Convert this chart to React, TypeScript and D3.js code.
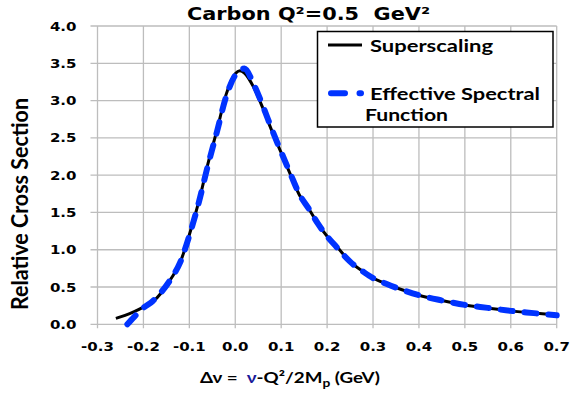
import React from "react";
import * as d3 from "d3";

// values
const xTicks = [-0.3, -0.2, -0.1, 0.0, 0.1, 0.2, 0.3, 0.4, 0.5, 0.6, 0.7];
const yTicks = [0.0, 0.5, 1.0, 1.5, 2.0, 2.5, 3.0, 3.5, 4.0];

const superX = [
  -0.26, -0.24, -0.22, -0.2, -0.18, -0.16, -0.14, -0.12, -0.1, -0.08, -0.06, -0.04, -0.02, 0.0, 0.01, 0.02,
  0.04, 0.06, 0.08, 0.1, 0.12, 0.14, 0.16, 0.18, 0.2, 0.22, 0.25, 0.28, 0.3, 0.33, 0.36, 0.4, 0.45, 0.5, 0.55,
  0.6, 0.65, 0.7,
];
const superY = [
  0.08, 0.12, 0.17, 0.23, 0.3, 0.43, 0.61, 0.83, 1.2, 1.63, 2.14, 2.6, 3.08, 3.36, 3.4, 3.37, 3.18, 2.9, 2.59,
  2.3, 2.01, 1.73, 1.55, 1.35, 1.18, 1.05, 0.84, 0.7, 0.62, 0.54, 0.47, 0.39, 0.32, 0.26, 0.22, 0.18, 0.15,
  0.125,
];

const spectralX = [
  -0.235, -0.22, -0.2, -0.18, -0.16, -0.14, -0.12, -0.1, -0.08, -0.06, -0.04, -0.02, 0.0, 0.01, 0.02, 0.04,
  0.06, 0.08, 0.1, 0.12, 0.14, 0.16, 0.18, 0.2, 0.22, 0.25, 0.28, 0.3, 0.33, 0.36, 0.4, 0.45, 0.5, 0.55, 0.6,
  0.65, 0.7,
];
const spectralY = [
  0.0, 0.1, 0.22, 0.31, 0.44, 0.61, 0.83, 1.19, 1.62, 2.12, 2.58, 3.05, 3.34, 3.4, 3.43, 3.22, 2.93, 2.61, 2.31,
  2.02, 1.74, 1.55, 1.35, 1.18, 1.04, 0.84, 0.7, 0.62, 0.54, 0.47, 0.39, 0.32, 0.26, 0.22, 0.18, 0.15, 0.12,
];

const W = 571;
const H = 398;
const plot = { left: 97.5, right: 556.7, top: 26, bottom: 324.3 };

const tickFont = "'DejaVu Sans', Verdana, sans-serif";
const labelFont = "Lato, 'Open Sans', sans-serif";

export default function App() {
  const x = d3.scaleLinear().domain([-0.3, 0.7]).range([plot.left, plot.right]);
  const y = d3.scaleLinear().domain([0, 4]).range([plot.bottom, plot.top]);

  const line = d3
    .line<[number, number]>()
    .x((d) => x(d[0]))
    .y((d) => y(d[1]))
    .curve(d3.curveMonotoneX);

  const superPts = superX.map((v, i) => [v, superY[i]] as [number, number]);
  const spectralPts = spectralX.map((v, i) => [v, spectralY[i]] as [number, number]);

  const grid = "#bdbdbd";

  return (
    <svg
      width={W}
      height={H}
      style={{ position: "absolute", left: 0, top: 0, background: "#fff" }}
    >
      {/* grid + tick marks */}
      {yTicks.map((t) => (
        <line key={"gy" + t} x1={plot.left - 7} x2={plot.right} y1={y(t)} y2={y(t)} stroke={grid} strokeWidth={1.3} />
      ))}
      {xTicks.map((t) => (
        <line key={"gx" + t} x1={x(t)} x2={x(t)} y1={plot.top} y2={plot.bottom + 4} stroke={grid} strokeWidth={1.3} />
      ))}

      {/* y tick labels */}
      {yTicks.map((t) => (
        <text
          key={"ly" + t}
          transform={`translate(76.5,${y(t) + 4.5}) scale(1.25,1)`}
          textAnchor="end"
          fontFamily={tickFont}
          fontWeight="bold"
          fontSize={12}
          fill="#000"
        >
          {d3.format(".1f")(t)}
        </text>
      ))}
      {/* x tick labels */}
      {xTicks.map((t) => (
        <text
          key={"lx" + t}
          transform={`translate(${x(t)},350.5) scale(1.25,1)`}
          textAnchor="middle"
          fontFamily={tickFont}
          fontWeight="bold"
          fontSize={12}
          fill="#000"
        >
          {d3.format(".1f")(t).replace("−", "-")}
        </text>
      ))}

      {/* series */}
      <path d={line(superPts) ?? ""} fill="none" stroke="#000" strokeWidth={3} />
      <path
        d={line(spectralPts) ?? ""}
        fill="none"
        stroke="#0033ff"
        strokeWidth={6}
        strokeLinecap="round"
        strokeDasharray="12,12"
      />

      {/* title */}
      <text
        x={187}
        y={19.5}
        textLength={243}
        lengthAdjust="spacingAndGlyphs"
        fontFamily={tickFont}
        fontWeight="bold"
        fontSize={17.5}
        style={{ whiteSpace: "pre" }}
      >
        Carbon Q²=0.5  GeV²
      </text>

      {/* legend */}
      <rect x={317.5} y={31.5} width={235.5} height={95.5} fill="#fff" stroke="#000" strokeWidth={1.5} />
      <line x1={328} x2={362} y1={45} y2={45} stroke="#000" strokeWidth={3} />
      <text x={370} y={51.5} textLength={123} lengthAdjust="spacingAndGlyphs" fontFamily={labelFont} fontWeight="bold" fontSize={17}>
        Superscaling
      </text>
      <line
        x1={331}
        x2={361}
        y1={93.3}
        y2={93.3}
        stroke="#0033ff"
        strokeWidth={6}
        strokeLinecap="round"
        strokeDasharray="14,14.5"
      />
      <text x={370} y={100} textLength={170} lengthAdjust="spacingAndGlyphs" fontFamily={labelFont} fontWeight="bold" fontSize={17}>
        Effective Spectral
      </text>
      <text x={365} y={120.5} textLength={83} lengthAdjust="spacingAndGlyphs" fontFamily={labelFont} fontWeight="bold" fontSize={17}>
        Function
      </text>

      {/* axis titles */}
      <text
        transform="translate(28,204) rotate(-90)"
        textAnchor="middle"
        textLength={212}
        lengthAdjust="spacingAndGlyphs"
        fontFamily={labelFont}
        fontWeight="bold"
        fontSize={23}
      >
        Relative Cross Section
      </text>
      <text
        x={200}
        y={383}
        textLength={180}
        lengthAdjust="spacingAndGlyphs"
        fontFamily={labelFont}
        fontWeight="bold"
        fontSize={15}
        style={{ whiteSpace: "pre" }}
      >
        Δν =  <tspan fill="#1a1a99">ν</tspan>-Q²/2M<tspan fontSize={11} dy={4}>p</tspan>
        <tspan dy={-4}> (GeV)</tspan>
      </text>
    </svg>
  );
}
